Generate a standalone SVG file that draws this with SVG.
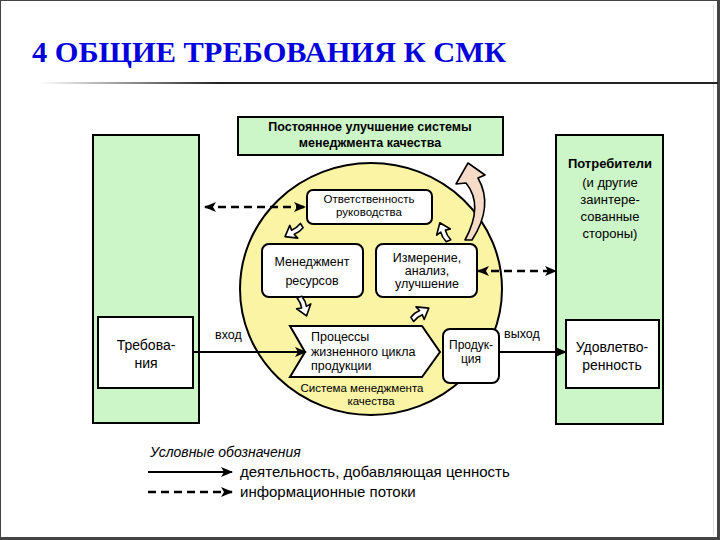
<svg xmlns="http://www.w3.org/2000/svg" width="720" height="540" viewBox="0 0 720 540">
<style>
  .t{font-family:"Liberation Sans",Arial,sans-serif;fill:#000}
  .c{text-anchor:middle}
  .green{fill:#ccf5c8;stroke:#000;stroke-width:2}
  .box{fill:#fff;stroke:#000;stroke-width:2}
  .dash{fill:none;stroke:#000;stroke-width:2.5;stroke-dasharray:8,5}
  .solid{fill:none;stroke:#000;stroke-width:2}
  .small{fill:#fff;stroke:#000;stroke-width:1.6;stroke-linejoin:round}
</style>
<defs>
  <linearGradient id="lg" x1="40" y1="0" x2="220" y2="0" gradientUnits="userSpaceOnUse">
    <stop offset="0" stop-color="#fff"/>
    <stop offset="1" stop-color="#222"/>
  </linearGradient>
  <marker id="ah" markerWidth="12" markerHeight="10" refX="11" refY="5" orient="auto-start-reverse" markerUnits="userSpaceOnUse">
    <path d="M0,0 L12,5 L0,10 L3,5 Z" fill="#000"/>
  </marker>
  <path id="sa" d="M0,-2 Q6,-4 11,-3 L10,-8 L20,0 L10,7 L11,2 Q6,1 0,3 Z"/>
</defs>
<rect width="720" height="540" fill="#fff"/>
<rect x="0.5" y="0.5" width="718" height="538" fill="none" stroke="#444" stroke-width="1"/>
<line x1="718.5" y1="0" x2="718.5" y2="540" stroke="#444" stroke-width="3"/>
<line x1="0" y1="538.5" x2="720" y2="538.5" stroke="#444" stroke-width="3"/>
<line x1="713.5" y1="5" x2="713.5" y2="535" stroke="#ddd" stroke-width="1"/>

<g id="title">
  <text x="32" y="62" font-family="'Liberation Serif','Times New Roman',serif" font-weight="bold" font-size="29" fill="#0000dd" textLength="474" lengthAdjust="spacingAndGlyphs">4 ОБЩИЕ ТРЕБОВАНИЯ К СМК</text>
  <line x1="40" y1="83" x2="718" y2="83" stroke="url(#lg)" stroke-width="2"/>
</g>

<g id="improve">
  <rect x="238" y="117" width="265" height="38" class="green"/>
  <text class="t c" x="370" y="131" font-size="12.5" font-weight="bold">Постоянное  улучшение системы</text>
  <text class="t c" x="370" y="147" font-size="12.5" font-weight="bold">менеджмента качества</text>
</g>

<g id="left-party">
  <rect x="93" y="135" width="106" height="288" class="green"/>
</g>
<g id="requirements">
  <rect x="98" y="317" width="95" height="71" class="box"/>
  <text class="t c" x="146" y="350" font-size="14">Требова-</text>
  <text class="t c" x="146" y="368" font-size="14">ния</text>
</g>

<g id="customers">
  <rect x="556" y="135" width="107" height="289" class="green"/>
  <text class="t c" x="610" y="168" font-size="13" font-weight="bold">Потребители</text>
  <text class="t c" x="610" y="187" font-size="13">(и другие</text>
  <text class="t c" x="610" y="204" font-size="13">заинтере-</text>
  <text class="t c" x="610" y="221" font-size="13">сованные</text>
  <text class="t c" x="610" y="238" font-size="13">стороны)</text>
</g>
<g id="satisfaction">
  <rect x="566" y="320" width="93" height="68" class="box"/>
  <text class="t c" x="612" y="352" font-size="14">Удовлетво-</text>
  <text class="t c" x="612" y="370" font-size="14">ренность</text>
</g>

<g id="qms">
  <ellipse cx="371" cy="289" rx="131" ry="126" fill="#faf4a4" stroke="#000" stroke-width="2"/>
  <text class="t c" x="362" y="392" font-size="11.5">Система менеджмента</text>
  <text class="t c" x="371" y="405" font-size="11.5">качества</text>
</g>

<g id="responsibility">
  <rect x="307" y="190" width="125" height="34" rx="6" class="box"/>
  <text class="t c" x="369" y="203" font-size="11.5">Ответственность</text>
  <text class="t c" x="369" y="216" font-size="11.5">руководства</text>
</g>

<g id="resources">
  <rect x="262" y="244" width="101" height="53" rx="7" class="box"/>
  <text class="t c" x="312" y="266" font-size="12.5">Менеджмент</text>
  <text class="t c" x="312" y="285" font-size="12.5">ресурсов</text>
</g>

<g id="measurement">
  <rect x="376" y="244" width="101" height="53" rx="7" class="box"/>
  <text class="t c" x="427" y="262" font-size="12.5">Измерение,</text>
  <text class="t c" x="427" y="275" font-size="12.5">анализ,</text>
  <text class="t c" x="427" y="288" font-size="12.5">улучшение</text>
</g>

<g id="processes">
  <polygon points="290,326 422,326 440,352 422,377 290,377 305,352" class="box"/>
  <text class="t" x="311" y="341" font-size="12.5">Процессы</text>
  <text class="t" x="311" y="356" font-size="12.5">жизненного цикла</text>
  <text class="t" x="311" y="370" font-size="12.5">продукции</text>
</g>

<g id="product">
  <rect x="443" y="329" width="56" height="54" rx="7" class="box"/>
  <text class="t c" x="471" y="349" font-size="12">Продук-</text>
  <text class="t c" x="471" y="363" font-size="12">ция</text>
</g>

<g id="connectors">
  <line x1="205" y1="207" x2="305" y2="207" class="dash" marker-start="url(#ah)" marker-end="url(#ah)"/>
  <line x1="478" y1="271" x2="556" y2="271" class="dash" marker-start="url(#ah)" marker-end="url(#ah)"/>
  <line x1="193" y1="352" x2="306" y2="352" class="solid" marker-end="url(#ah)"/>
  <line x1="499" y1="352" x2="566" y2="352" class="solid" marker-end="url(#ah)"/>
  <text class="t" x="215" y="339" font-size="12.5">вход</text>
  <text class="t" x="504" y="338" font-size="12.5">выход</text>
  <use href="#sa" class="small" transform="translate(302,226) rotate(148)"/>
  <use href="#sa" class="small" transform="translate(300,297) rotate(71)"/>
  <use href="#sa" class="small" transform="translate(412,319) rotate(-33)"/>
  <use href="#sa" class="small" transform="translate(448,241) rotate(-114)"/>
  <path d="M465,240 Q484,205 466,183 L456,184 L468,163 L485,175 L478,178 Q494,206 472,240 Z" fill="#f6dcc8" stroke="#000" stroke-width="1.6" stroke-linejoin="round"/>
</g>

<g id="legend">
  <text class="t" x="150" y="457" font-size="14" font-style="italic">Условные обозначения</text>
  <line x1="148" y1="472" x2="232" y2="472" class="solid" marker-end="url(#ah)"/>
  <line x1="148" y1="492" x2="232" y2="492" class="dash" marker-end="url(#ah)"/>
  <text class="t" x="240" y="477" font-size="15">деятельность, добавляющая ценность</text>
  <text class="t" x="240" y="497" font-size="15">информационные потоки</text>
</g>
</svg>
